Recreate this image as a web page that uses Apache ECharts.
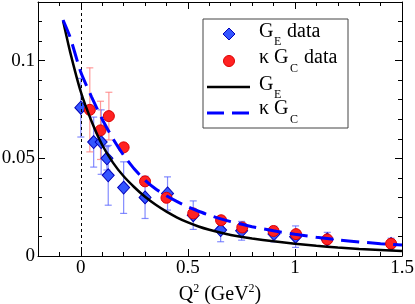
<!DOCTYPE html>
<html><head><meta charset="utf-8">
<script src="https://cdn.jsdelivr.net/npm/echarts@6/dist/echarts.min.js"></script>
<style>html,body{margin:0;padding:0;background:#fff}#c{width:415px;height:304px}</style>
</head><body><div id="c"></div>
<script>
// ---- data ----
const geDataX   = [0, 0.06, 0.095, 0.122, 0.128, 0.2, 0.3, 0.405, 0.525, 0.653, 0.751, 0.902, 1.003, 1.151, 1.449];
const geDataY   = [0.0759, 0.0583, 0.0583, 0.0500, 0.0413, 0.0350, 0.0300, 0.0320, 0.0209, 0.0133, 0.0129, 0.0112, 0.0099, 0.0085, 0.0061];
const geDataErr = [0.0150, 0.0128, 0.0165, 0.0060, 0.0153, 0.0132, 0.0108, 0.0085, 0.0073, 0.0060, 0.0048, 0.0040, 0.0055, 0.0036, 0.0030];

const kgcDataX   = [0.042, 0.092, 0.131, 0.2, 0.3, 0.4, 0.525, 0.655, 0.754, 0.9, 1.005, 1.151, 1.449];
const kgcDataY   = [0.0748, 0.0643, 0.0716, 0.0556, 0.0382, 0.0298, 0.0218, 0.0183, 0.0146, 0.0128, 0.0112, 0.0085, 0.0063];
const kgcDataErr = [0.0215, 0.0149, 0.0122, 0.0020, 0.0015, 0.0015, 0.0012, 0.0012, 0.0012, 0.0012, 0.0012, 0.0012, 0.0012];

const curveX    = [-0.083, -0.05, 0, 0.05, 0.1, 0.15, 0.2, 0.25, 0.3, 0.35, 0.4, 0.45, 0.5, 0.55, 0.6, 0.65, 0.7, 0.8, 0.9, 1.0, 1.1, 1.2, 1.3, 1.4, 1.5];
const geCurveY  = [0.1204, 0.1045, 0.0840, 0.0690, 0.0568, 0.0478, 0.0408, 0.0352, 0.0303, 0.0262, 0.0227, 0.0197, 0.0172, 0.0151, 0.0134, 0.0120, 0.0108, 0.0090, 0.0075, 0.0063, 0.0052, 0.0043, 0.0036, 0.0031, 0.0026];
const kgcCurveY = [0.1208, 0.1120, 0.0940, 0.0815, 0.0700, 0.0600, 0.0515, 0.0445, 0.0388, 0.0343, 0.0308, 0.0278, 0.0252, 0.0229, 0.0209, 0.0191, 0.0176, 0.0150, 0.0129, 0.0111, 0.0096, 0.0083, 0.0072, 0.0063, 0.0056];

const xMajor = [0, 0.5, 1, 1.5];
const xMajorLabels = ['0', '0.5', '1', '1.5'];
const xMinor = [-0.1, 0.1, 0.2, 0.3, 0.4, 0.6, 0.7, 0.8, 0.9, 1.1, 1.2, 1.3, 1.4];
const yMajor = [0, 0.05, 0.1];
const yMajorLabels = ['0', '0.05', '0.1'];
const yMinor = [0.01, 0.02, 0.03, 0.04, 0.06, 0.07, 0.08, 0.09, 0.11, 0.12];

const legendNames = ['G_E data', 'κ G_C data', 'G_E', 'κ G_C'];

// ---- chart ----
const FONT = 'Liberation Serif';
const chart = echarts.init(document.getElementById('c'), null, {renderer: 'canvas'});

function xAxisDef(pos, ticks, len, withLabels, withLine) {
  const a = {
    type: 'value', position: pos, min: -0.2, max: 1.5, gridIndex: 0,
    axisLine: {show: withLine, onZero: false, lineStyle: {color: '#000', width: 1}},
    axisTick: {show: true, inside: true, length: len, customValues: ticks, lineStyle: {color: '#000', width: 1}},
    axisLabel: {show: false},
    splitLine: {show: false}
  };
  if (withLabels) {
    a.axisLabel = {show: true, customValues: xMajor, margin: 3, color: '#000', fontFamily: FONT, fontSize: 19,
      formatter: v => { const i = xMajor.findIndex(t => Math.abs(t - v) < 1e-9); return i >= 0 ? xMajorLabels[i] : ''; }};
    a.name = '{n|Q}{s|2}{n| (GeV}{s|2}{n|)}';
    a.nameLocation = 'middle';
    a.nameGap = 27;
    a.nameTextStyle = {rich: {
      n: {fontFamily: FONT, fontSize: 20, color: '#000', lineHeight: 24},
      s: {fontFamily: FONT, fontSize: 12, color: '#000', lineHeight: 12, verticalAlign: 'top'}
    }};
  }
  return a;
}
function yAxisDef(pos, ticks, len, withLabels, withLine) {
  const a = {
    type: 'value', position: pos, min: 0, max: 0.13, gridIndex: 0,
    axisLine: {show: withLine, onZero: false, lineStyle: {color: '#000', width: 1}},
    axisTick: {show: true, inside: true, length: len, customValues: ticks, lineStyle: {color: '#000', width: 1}},
    axisLabel: {show: false},
    splitLine: {show: false}
  };
  if (withLabels) {
    a.axisLabel = {show: true, customValues: yMajor, margin: 3, color: '#000', fontFamily: FONT, fontSize: 19,
      formatter: v => { const i = yMajor.findIndex(t => Math.abs(t - v) < 1e-9); return i >= 0 ? yMajorLabels[i] : ''; }};
  }
  return a;
}

function errSeries(xs, ys, es, color) {
  return {
    type: 'custom', xAxisIndex: 0, yAxisIndex: 0, z: 2, silent: true,
    data: xs.map((x, i) => [x, ys[i] - es[i], ys[i] + es[i]]),
    encode: {x: 0, y: [1, 2]},
    renderItem: (params, api) => {
      const x = api.value(0);
      const p1 = api.coord([x, api.value(1)]);
      const p2 = api.coord([x, api.value(2)]);
      const w = 3.5;
      const st = {stroke: color, lineWidth: 1.2};
      return {type: 'group', children: [
        {type: 'line', shape: {x1: p1[0], y1: p1[1], x2: p2[0], y2: p2[1]}, style: st},
        {type: 'line', shape: {x1: p1[0] - w, y1: p1[1], x2: p1[0] + w, y2: p1[1]}, style: st},
        {type: 'line', shape: {x1: p2[0] - w, y1: p2[1], x2: p2[0] + w, y2: p2[1]}, style: st}
      ]};
    }
  };
}

const LX = 203, LY = 19, LW = 145, LH = 109;
const graphics = [
  {type: 'rect', shape: {x: LX, y: LY, width: LW, height: LH}, style: {fill: '#fff', stroke: '#444', lineWidth: 1}, z: 99},
  {type: 'polygon', shape: {points: [[229, 28], [235, 34], [229, 40], [223, 34]]}, style: {fill: '#3355ff', stroke: '#0000bb', lineWidth: 1}, z: 100},
  {type: 'circle', shape: {cx: 229, cy: 61, r: 5.5}, style: {fill: '#ff2222', stroke: '#dd0000', lineWidth: 1}, z: 100},
  {type: 'line', shape: {x1: 207, y1: 87, x2: 250, y2: 87}, style: {stroke: '#000', lineWidth: 2.5}, z: 100},
  {type: 'line', shape: {x1: 207, y1: 113, x2: 250, y2: 113}, style: {stroke: '#0000ff', lineWidth: 3, lineDash: [17, 8]}, z: 100}
];
function addText(x, y, s, size) {
  graphics.push({type: 'text', x: x, y: y, z: 100,
    style: {text: s, fontFamily: FONT, fontSize: size, fill: '#000', verticalAlign: 'middle', align: 'left'}});
}
// row 1: G_E data
addText(259, 31.5, 'G', 20); addText(274, 42, 'E', 12); addText(287, 31.5, 'data', 20);
// row 2: κ G_C data
addText(259, 58, 'κ G', 20); addText(290, 69, 'C', 12); addText(304, 58, 'data', 20);
// row 3: G_E
addText(259, 85, 'G', 20); addText(274, 95, 'E', 12);
// row 4: κ G_C
addText(259, 108.5, 'κ G', 20); addText(290, 119.5, 'C', 12);

const option = {
  animation: false,
  backgroundColor: '#fff',
  grid: {left: 38, right: 13, top: 2, bottom: 48, containLabel: false, outerBoundsMode: 'none'},
  xAxis: [
    xAxisDef('bottom', xMajor, 7, true, true),
    xAxisDef('bottom', xMinor, 4, false, false),
    xAxisDef('top', xMajor, 7, false, true),
    xAxisDef('top', xMinor, 4, false, false)
  ],
  yAxis: [
    yAxisDef('left', yMajor, 7, true, true),
    yAxisDef('left', yMinor, 4, false, false),
    yAxisDef('right', yMajor, 7, false, true),
    yAxisDef('right', yMinor, 4, false, false)
  ],
  series: [
    errSeries(geDataX, geDataY, geDataErr, 'rgba(90,100,255,0.75)'),
    errSeries(kgcDataX, kgcDataY, kgcDataErr, 'rgba(255,120,120,0.75)'),
    {
      name: legendNames[0], type: 'scatter', xAxisIndex: 0, yAxisIndex: 0, z: 3,
      symbol: 'diamond', symbolSize: [12, 13],
      itemStyle: {color: '#3355ff', borderColor: '#0000bb', borderWidth: 1, opacity: 1},
      data: geDataX.map((x, i) => [x, geDataY[i]]),
      markLine: {silent: true, symbol: 'none', label: {show: false},
        lineStyle: {color: '#000', width: 1, type: [3, 3]},
        data: [{xAxis: 0}]}
    },
    {
      name: legendNames[1], type: 'scatter', xAxisIndex: 0, yAxisIndex: 0, z: 4,
      symbol: 'circle', symbolSize: 11,
      itemStyle: {color: '#ff2222', borderColor: '#dd0000', borderWidth: 1, opacity: 1},
      data: kgcDataX.map((x, i) => [x, kgcDataY[i]])
    },
    {
      name: legendNames[2], type: 'line', xAxisIndex: 0, yAxisIndex: 0, z: 5,
      showSymbol: false, smooth: 0.2,
      lineStyle: {color: '#000', width: 2.5},
      data: curveX.map((x, i) => [x, geCurveY[i]])
    },
    {
      name: legendNames[3], type: 'line', xAxisIndex: 0, yAxisIndex: 0, z: 6,
      showSymbol: false, smooth: 0.2,
      lineStyle: {color: '#0000ff', width: 3, type: [18, 8]},
      data: curveX.map((x, i) => [x, kgcCurveY[i]])
    }
  ],
  graphic: graphics
};
chart.setOption(option);
</script>
</body></html>
